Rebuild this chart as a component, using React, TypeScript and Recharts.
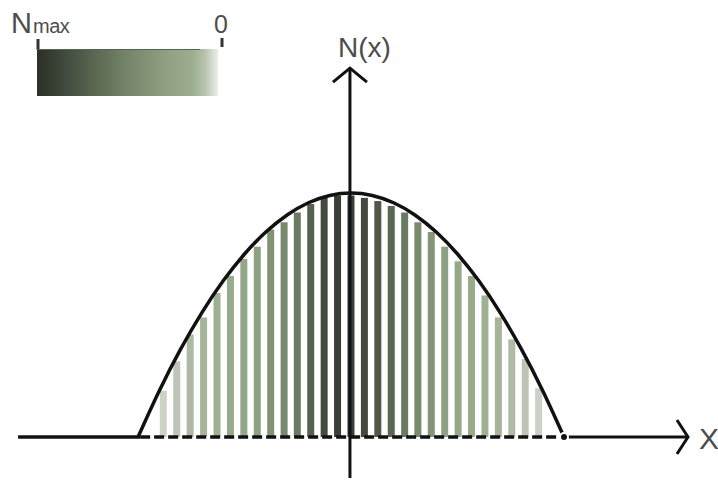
import { Bar, ComposedChart, Line, ReferenceLine, XAxis, YAxis } from "recharts";

// bar positions along x (half-width of the profile = 1) and their heights N/Nmax
const barX = [
  -0.881, -0.818, -0.755, -0.692, -0.629, -0.566, -0.503, -0.44, -0.377, -0.314,
  -0.252, -0.189, -0.126, -0.063, 0, 0.063, 0.126, 0.189, 0.252, 0.314, 0.377,
  0.44, 0.503, 0.566, 0.629, 0.692, 0.755, 0.818, 0.881,
];
const barN = [
  0.19, 0.31, 0.42, 0.49, 0.59, 0.66, 0.73, 0.78, 0.85, 0.88, 0.92, 0.955, 0.98,
  0.99, 0.99, 0.98, 0.967, 0.947, 0.92, 0.88, 0.84, 0.78, 0.72, 0.66, 0.58, 0.49,
  0.4, 0.32, 0.2,
];

// outline curve N(x)
const curveX = [
  -1, -0.9, -0.8, -0.7, -0.6, -0.5, -0.4, -0.3, -0.2, -0.1, 0, 0.1, 0.2, 0.3, 0.4,
  0.5, 0.6, 0.7, 0.8, 0.9, 1,
];
const curveN = [
  0, 0.19, 0.36, 0.51, 0.64, 0.75, 0.84, 0.91, 0.96, 0.99, 1, 0.99, 0.96, 0.91,
  0.84, 0.75, 0.64, 0.51, 0.36, 0.19, 0,
];

const bars = barX.map((x, i) => ({ x, n: barN[i] }));
const curve = curveX.map((x, i) => ({ x, c: curveN[i] }));

const W = 718;
const H = 483;
const BAR_W = 7;

// value -> colour, dark at Nmax, pale near 0
const stops: [number, string][] = [
  [0.0, "#dadcd6"],
  [0.2, "#ccd1c6"],
  [0.32, "#bcc4b4"],
  [0.45, "#a9b69f"],
  [0.6, "#9cb08e"],
  [0.75, "#93a687"],
  [0.85, "#829475"],
  [0.92, "#6b7a63"],
  [0.97, "#4c5746"],
  [1.0, "#2c3429"],
];

function hex(c: string) {
  return [1, 3, 5].map((i) => parseInt(c.slice(i, i + 2), 16));
}

function shade(n: number) {
  for (let i = 1; i < stops.length; i++) {
    const [v1, c1] = stops[i];
    const [v0, c0] = stops[i - 1];
    if (n <= v1) {
      const t = (n - v0) / (v1 - v0);
      const a = hex(c0);
      const b = hex(c1);
      const rgb = a.map((v, k) => Math.round(v + (b[k] - v) * t));
      return `rgb(${rgb.join(",")})`;
    }
  }
  return stops[stops.length - 1][1];
}

function StripeBar(p: any) {
  const n = p.payload ? p.payload.n : 0;
  const cx = p.x + p.width / 2;
  return <rect x={cx - BAR_W / 2} y={p.y} width={BAR_W} height={p.height} fill={shade(n)} />;
}

function arrowShape(back: number, spread: number) {
  return (props: any) => {
    const { x1, y1, x2, y2 } = props;
    const len = Math.hypot(x2 - x1, y2 - y1) || 1;
    const dx = (x2 - x1) / len;
    const dy = (y2 - y1) / len;
    const bx = x2 - dx * back;
    const by = y2 - dy * back;
    return (
      <g>
        <line x1={x1} y1={y1} x2={x2} y2={y2} stroke="#111" strokeWidth={3} />
        <polyline
          points={`${bx - dy * spread},${by + dx * spread} ${x2},${y2} ${bx + dy * spread},${by - dx * spread}`}
          fill="none"
          stroke="#111"
          strokeWidth={3}
        />
      </g>
    );
  };
}

const textStyle = { fontFamily: "'Liberation Sans', Arial, sans-serif", fill: "#4d4d4d" };

function Overlay() {
  return (
    <svg width={W} height={H} style={{ position: "absolute", left: 0, top: 0, pointerEvents: "none" }}>
      <defs>
        <linearGradient id="nbar" x1="0" y1="0" x2="1" y2="0">
          <stop offset="0%" stopColor="#2a3127" />
          <stop offset="12%" stopColor="#3b4436" />
          <stop offset="30%" stopColor="#57644f" />
          <stop offset="50%" stopColor="#75856a" />
          <stop offset="70%" stopColor="#8d9f80" />
          <stop offset="86%" stopColor="#9cae8f" />
          <stop offset="93%" stopColor="#b9c3b0" />
          <stop offset="100%" stopColor="#eceee9" />
        </linearGradient>
      </defs>
      <text x={11} y={33} fontSize={29} style={textStyle}>N</text>
      <text x={33} y={33} fontSize={20} letterSpacing={-0.5} style={textStyle}>max</text>
      <text x={214} y={33} fontSize={25} style={textStyle}>0</text>
      <line x1={38} y1={39} x2={38} y2={50} stroke="#333" strokeWidth={3} />
      <line x1={222} y1={38} x2={222} y2={47} stroke="#333" strokeWidth={3} />
      <rect x={37} y={49} width={181} height={47} fill="url(#nbar)" />
      <line x1={37} y1={49.5} x2={200} y2={49.5} stroke="#5a5f55" strokeWidth={1} />
      <text x={338} y={57} fontSize={28} style={textStyle}>N(x)</text>
      <text x={699} y={449} fontSize={30} style={textStyle}>X</text>
    </svg>
  );
}

export default function App() {
  return (
    <div style={{ position: "absolute", left: 0, top: 0, width: W, height: H, background: "#fff" }}>
      <ComposedChart width={W} height={H} data={bars} margin={{ top: 0, right: 0, bottom: 0, left: 0 }}>
        <XAxis type="number" dataKey="x" domain={[-1.648, 1.723]} allowDataOverflow hide />
        <YAxis type="number" domain={[-0.1885, 1.791]} allowDataOverflow hide />
        <Bar dataKey="n" barSize={BAR_W} shape={StripeBar} isAnimationActive={false} />
        <ReferenceLine
          segment={[{ x: -1.563, y: 0 }, { x: -0.99, y: 0 }]}
          stroke="#111"
          strokeWidth={3.5}
        />
        <ReferenceLine
          segment={[{ x: -0.99, y: 0 }, { x: 1.005, y: 0 }]}
          stroke="#111"
          strokeWidth={3.5}
          strokeDasharray="10 4"
        />
        <ReferenceLine
          segment={[{ x: 1.005, y: 0 }, { x: 1.582, y: 0 }]}
          shape={arrowShape(11, 17)}
        />
        <ReferenceLine
          segment={[{ x: -0.005, y: -0.168 }, { x: -0.005, y: 1.512 }]}
          shape={arrowShape(14, 17)}
        />
        <Line
          data={curve}
          dataKey="c"
          type="monotone"
          stroke="#111"
          strokeWidth={3.5}
          dot={false}
          isAnimationActive={false}
        />
      </ComposedChart>
      <Overlay />
    </div>
  );
}
